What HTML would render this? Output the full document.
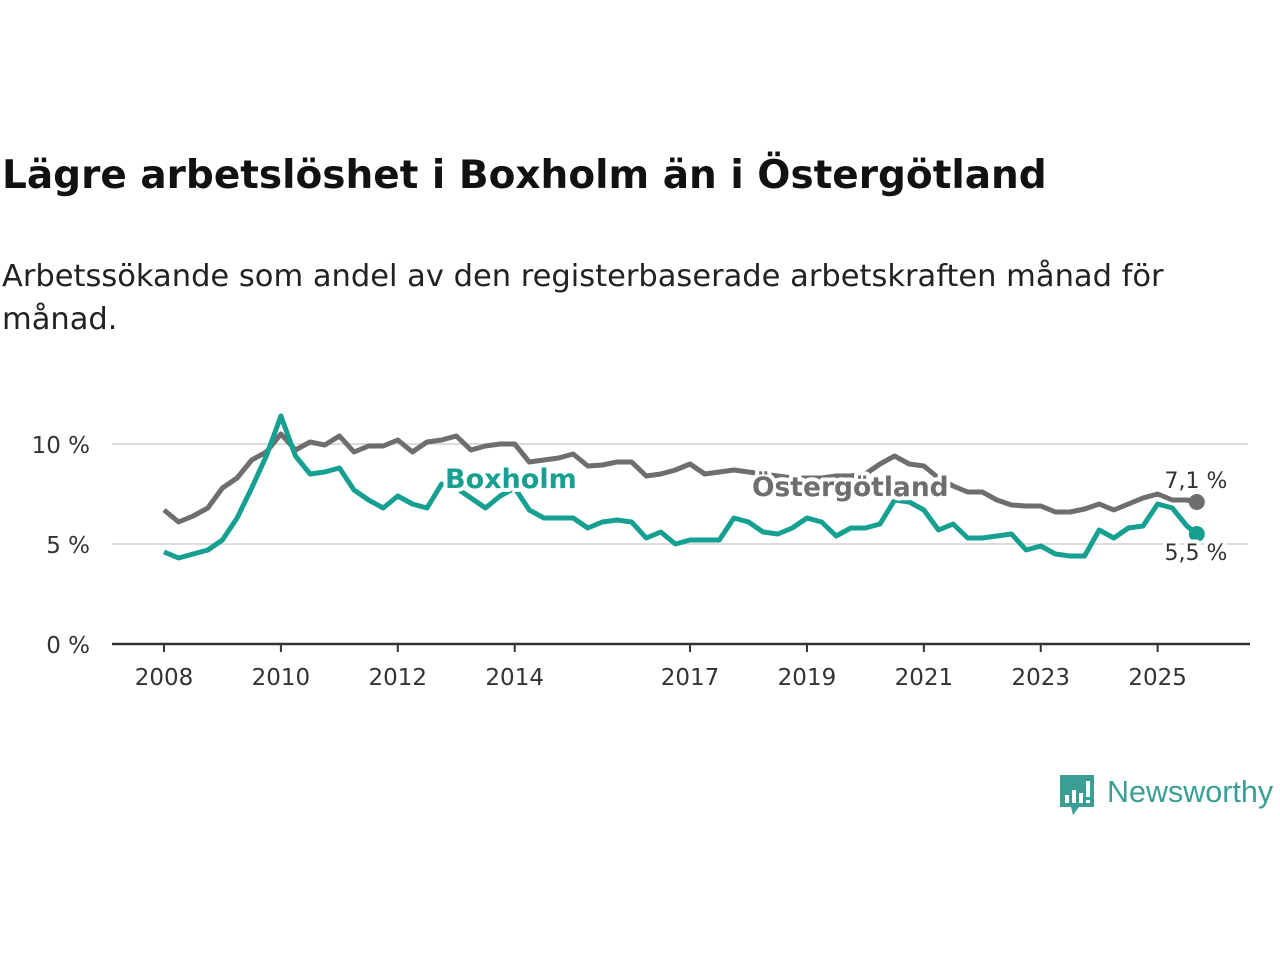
<!DOCTYPE html>
<html><head><meta charset="utf-8">
<style>
body{margin:0;background:#fff;width:1280px;height:960px;overflow:hidden;font-family:"DejaVu Sans","Liberation Sans",sans-serif;}
h1{position:absolute;left:2px;top:153px;margin:0;font-size:39px;font-weight:bold;color:#111;letter-spacing:0px;}
.sub{position:absolute;left:2px;top:255px;margin:0;font-size:30.5px;line-height:43px;color:#222;width:1230px;}
svg{position:absolute;left:0;top:0;}
</style></head><body>
<h1>Lägre arbetslöshet i Boxholm än i Östergötland</h1>
<p class="sub">Arbetssökande som andel av den registerbaserade arbetskraften månad för månad.</p>
<svg id="chart" width="1280" height="960"></svg>
<script>
const dates=[2008,2008.25,2008.5,2008.75,2009,2009.25,2009.5,2009.75,2010,2010.25,2010.5,2010.75,2011,2011.25,2011.5,2011.75,2012,2012.25,2012.5,2012.75,2013,2013.25,2013.5,2013.75,2014,2014.25,2014.5,2014.75,2015,2015.25,2015.5,2015.75,2016,2016.25,2016.5,2016.75,2017,2017.25,2017.5,2017.75,2018,2018.25,2018.5,2018.75,2019,2019.25,2019.5,2019.75,2020,2020.25,2020.5,2020.75,2021,2021.25,2021.5,2021.75,2022,2022.25,2022.5,2022.75,2023,2023.25,2023.5,2023.75,2024,2024.25,2024.5,2024.75,2025,2025.25,2025.5,2025.67];
const ostergotland=[6.7,6.1,6.4,6.8,7.8,8.3,9.2,9.6,10.5,9.7,10.1,9.95,10.4,9.6,9.9,9.9,10.2,9.6,10.1,10.2,10.4,9.7,9.9,10.0,10.0,9.1,9.2,9.3,9.5,8.9,8.95,9.1,9.1,8.4,8.5,8.7,9.0,8.5,8.6,8.7,8.6,8.5,8.4,8.3,8.3,8.3,8.4,8.4,8.5,9.0,9.4,9.0,8.9,8.3,7.9,7.6,7.6,7.2,6.95,6.9,6.9,6.6,6.6,6.75,7.0,6.7,7.0,7.3,7.5,7.2,7.2,7.1];
const boxholm=[4.6,4.3,4.5,4.7,5.2,6.3,7.8,9.4,11.4,9.4,8.5,8.6,8.8,7.7,7.2,6.8,7.4,7.0,6.8,8.0,7.8,7.3,6.8,7.4,7.8,6.7,6.3,6.3,6.3,5.8,6.1,6.2,6.1,5.3,5.6,5.0,5.2,5.2,5.2,6.3,6.1,5.6,5.5,5.8,6.3,6.1,5.4,5.8,5.8,6.0,7.2,7.1,6.7,5.7,6.0,5.3,5.3,5.4,5.5,4.7,4.9,4.5,4.4,4.4,5.7,5.3,5.8,5.9,7.0,6.8,5.9,5.5];
const yTicks=[0,5,10];
const yTickLabels=["0 %","5 %","10 %"];
const xTicks=[2008,2010,2012,2014,2017,2019,2021,2023,2025];
const NS="http://www.w3.org/2000/svg";
const svg=document.getElementById('chart');
const X=t=>164+(t-2008)*58.45;
const Y=v=>644-v*20;
function el(tag,attrs,parent){const e=document.createElementNS(NS,tag);for(const k in attrs)e.setAttribute(k,attrs[k]);(parent||svg).appendChild(e);return e;}
yTicks.forEach((v,i)=>{
  if(v>0){const g=el('line',{x1:112,x2:1248,y1:Y(v),y2:Y(v),stroke:'#dcdcdc','stroke-width':2});
  
  }
  const t=el('text',{x:90,y:Y(v)+9,'text-anchor':'end','font-size':23,fill:'#333','font-family':'DejaVu Sans, Liberation Sans, sans-serif'});
  t.textContent=yTickLabels[i];
  
  
});
const ax=el('line',{x1:112,x2:1250,y1:644,y2:644,stroke:'#333','stroke-width':2.5});


xTicks.forEach(yr=>{
  const tk=el('line',{x1:X(yr),x2:X(yr),y1:644,y2:652,stroke:'#333','stroke-width':2});
  
  
  const t=el('text',{x:X(yr),y:685,'text-anchor':'middle','font-size':23,fill:'#333','font-family':'DejaVu Sans, Liberation Sans, sans-serif'});
  t.textContent=yr;
  
  
});
function line(vals,color,name){
  const d=vals.map((v,i)=>(i?'L':'M')+X(dates[i]).toFixed(1)+','+Y(v).toFixed(1)).join('');
  const p=el('path',{d:d,fill:'none',stroke:color,'stroke-width':5,'stroke-linejoin':'round'});
  
  
  const n=vals.length-1;
  const c=el('circle',{cx:X(dates[n]),cy:Y(vals[n]),r:8,fill:color});
  
  
}
line(ostergotland,'#6e6e70','ostergotland-line');
line(boxholm,'#16a091','boxholm-line');
function label(txt,x,y,color,name,size,weight,anchor){
  const t=el('text',{x:x,y:y,'font-size':size,'font-weight':weight,fill:color,'text-anchor':anchor||'start',stroke:'#fff','stroke-width':8,'paint-order':'stroke','stroke-linejoin':'round','font-family':'DejaVu Sans, Liberation Sans, sans-serif'});
  t.textContent=txt;
  
  
}
label('Boxholm',445,488,'#16a091','boxholm-label',27,'bold');
label('Östergötland',752,496,'#6e6e70','ostergotland-label',26.5,'bold');
label('7,1 %',1196,488,'#333','ostergotland-end-value',22,'normal','middle');
label('5,5 %',1196,560,'#333','boxholm-end-value',22,'normal','middle');
</script>
<svg width="1280" height="960" style="pointer-events:none">
<path d="M1060 775 h34 v32 h-15 l-6 8 l-2 -8 h-11 z" fill="#3a9e94"/>
<rect x="1065" y="795" width="4" height="8" fill="#fff"/><rect x="1072" y="790" width="4" height="13" fill="#fff"/><rect x="1079" y="793" width="4" height="10" fill="#fff"/><rect x="1086" y="781" width="4" height="16" fill="#fff"/><rect x="1086" y="800" width="4" height="3" fill="#fff"/>
<text x="1107" y="802" font-size="30.5" fill="#3a9e94" font-family="Liberation Sans, sans-serif">Newsworthy</text>
</svg>
</body></html>
